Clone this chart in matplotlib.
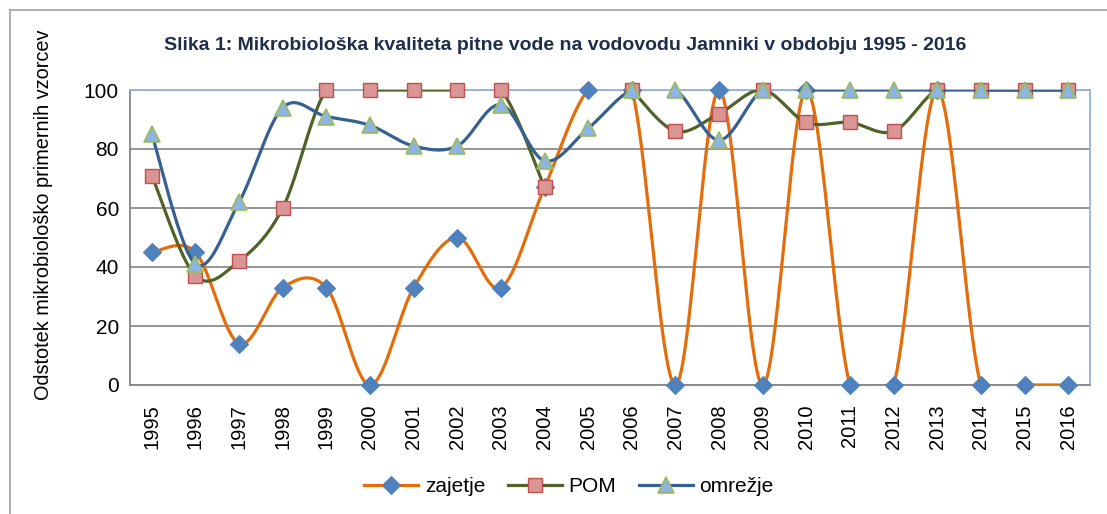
import numpy as np
import matplotlib
matplotlib.use('Agg')
import matplotlib.pyplot as plt
import matplotlib.lines as mlines

###############################################################################
# data:

years = [str(y) for y in range(1995, 2017)]
zajetje = [45, 45, 14, 33, 33, 0, 33, 50, 33, 67, 100, 100, 0, 100, 0, 100, 0, 0, 100, 0, 0, 0]
pom = [71, 37, 42, 60, 100, 100, 100, 100, 100, 67, np.nan, 100, 86, 92, 100, 89, 89, 86, 100, 100, 100, 100]
omrezje = [85, 41, 62, 94, 91, 88, 81, 81, 95, 76, 87, 100, 100, 83, 100, 100, 100, 100, 100, 100, 100, 100]

title = 'Slika 1: Mikrobiološka kvaliteta pitne vode na vodovodu Jamniki v obdobju 1995 - 2016'
ylabel = 'Odstotek mikrobiološko primernih vzorcev'
yticks = [0, 20, 40, 60, 80, 100]

###############################################################################
# smoothing like the spreadsheet "smoothed line" (bezier, 1/6 tension):

def smooth(xs, ys, n=40):
    xs = np.asarray(xs, dtype=float)
    ys = np.asarray(ys, dtype=float)
    out_x, out_y = [], []
    ok = ~np.isnan(ys)
    # split into runs of valid points
    runs, cur = [], []
    for i in range(len(ys)):
        if ok[i]:
            cur.append(i)
        else:
            if cur:
                runs.append(cur)
            cur = []
    if cur:
        runs.append(cur)
    t = np.linspace(0, 1, n)
    for run in runs:
        P = np.array([[xs[i], ys[i]] for i in run])
        m = len(P)
        for i in range(m - 1):
            p0 = P[i - 1] if i > 0 else P[i]
            p1 = P[i]
            p2 = P[i + 1]
            p3 = P[i + 2] if i + 2 < m else P[i + 1]
            c1 = p1 + (p2 - p0) / 6.
            c2 = p2 - (p3 - p1) / 6.
            b = ((1 - t) ** 3)[:, None] * p1 + (3 * (1 - t) ** 2 * t)[:, None] * c1 \
                + (3 * (1 - t) * t ** 2)[:, None] * c2 + (t ** 3)[:, None] * p2
            out_x.extend(b[:, 0]); out_y.extend(b[:, 1])
        out_x.append(np.nan); out_y.append(np.nan)
    return np.array(out_x), np.array(out_y)

###############################################################################
# plot:

font = ['Liberation Sans Narrow', 'Liberation Sans', 'DejaVu Sans']
plt.rcParams['font.family'] = font

fig = plt.figure(figsize=(11.07, 5.14), dpi=100)
ax = fig.add_axes([130/1107, 1 - 385/514, 960/1107, 295/514])

x = np.arange(len(years))

series = [
    (zajetje, 'zajetje', '#E46C0A', dict(marker='D', ms=9.5, mfc='#4F81BD', mec='#4F81BD', mew=0.8)),
    (pom, 'POM', '#4F6228', dict(marker='s', ms=10.5, mfc='#D99694', mec='#C0504D', mew=1.0)),
    (omrezje, 'omrežje', '#376092', dict(marker='^', ms=11.5, mfc='#8EB4E3', mec='#9BBB59', mew=1.2)),
]

handles = []
for k, (vals, lab, col, mk) in enumerate(series):
    sx, sy = smooth(x, vals)
    ax.plot(sx, sy, color=col, lw=2.3, zorder=3 + 2 * k, solid_capstyle='butt')
    ax.plot(x, vals, ls='none', clip_on=False, zorder=4 + 2 * k, **mk)
    handles.append(mlines.Line2D([], [], color=col, lw=2.3, **mk))

ax.set_xlim(-0.5, len(years) - 0.5)
ax.set_ylim(0, 100)
ax.set_xticks(x)
ax.set_xticklabels(years, rotation=90, fontsize=14.5)
ax.set_yticks(yticks)
ax.set_yticklabels([str(v) for v in yticks], fontsize=15)
ax.tick_params(length=0, pad=14)
ax.tick_params(axis='y', pad=8)

ax.grid(axis='y', color='#8C8C8C', lw=1.3, zorder=1)
ax.set_axisbelow(True)
for s in ['left', 'bottom']:
    ax.spines[s].set_color('#868686')
    ax.spines[s].set_linewidth(1.3)
for s in ['top', 'right']:
    ax.spines[s].set_color('#95B3D7')
    ax.spines[s].set_linewidth(1.3)

ax.set_ylabel(ylabel, fontsize=14.3)
ax.yaxis.set_label_coords(-(130 - 44) / 960, (385 - 215) / 295)
ax.yaxis.label.set_verticalalignment('center')

fig.text(565/1107, 1 - 45/514, title, ha='center', va='center', fontsize=14,
         fontweight='bold', color='#1F2D4D')

leg = fig.legend(handles=handles, labels=[s[1] for s in series], loc='center',
                 bbox_to_anchor=(569/1107, 1 - 487/514), ncol=3, frameon=False,
                 fontsize=15, handlelength=2.6, handletextpad=0.3, columnspacing=1.1)

# chart area border (only left and top edges are in view)
fig.add_artist(mlines.Line2D([10/1107, 10/1107], [0, 1 - 10/514], color='#A6A6A6', lw=1.3))
fig.add_artist(mlines.Line2D([10/1107, 1], [1 - 10/514, 1 - 10/514], color='#A6A6A6', lw=1.3))

fig.savefig('out.png', dpi=100)
